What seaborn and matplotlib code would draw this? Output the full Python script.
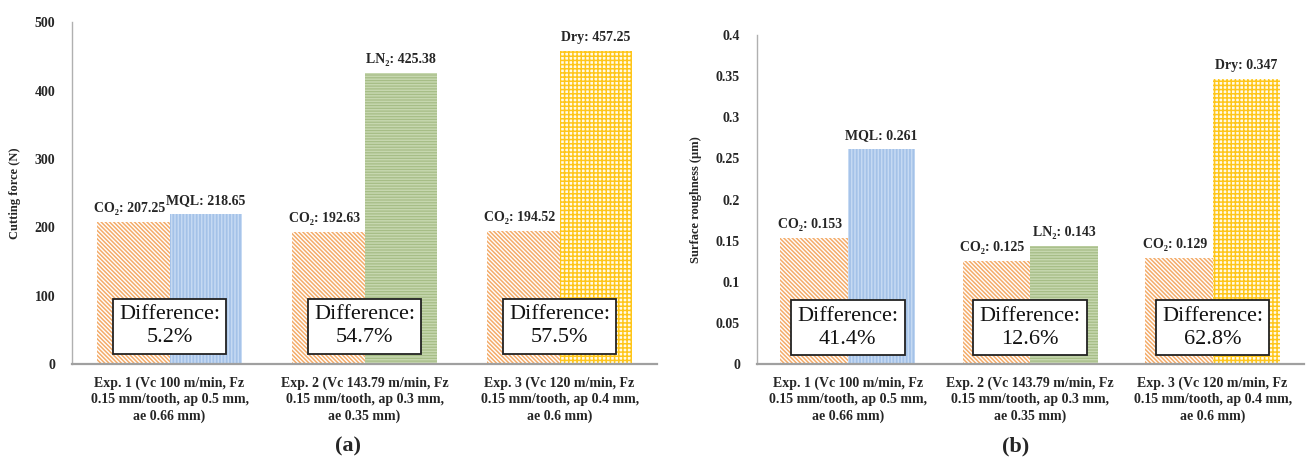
import numpy as np
import pandas as pd
import matplotlib
matplotlib.use("Agg")
import matplotlib.pyplot as plt
import matplotlib.transforms as mtransforms
import seaborn as sns

# data
experiments = [
    "Exp. 1 (Vc 100 m/min, Fz\n0.15 mm/tooth, ap 0.5 mm,\nae 0.66 mm)",
    "Exp. 2 (Vc 143.79 m/min, Fz\n0.15 mm/tooth, ap 0.3 mm,\nae 0.35 mm)",
    "Exp. 3 (Vc 120 m/min, Fz\n0.15 mm/tooth, ap 0.4 mm,\nae 0.6 mm)",
]
alt_names = ["MQL", "LN\u2082", "Dry"]
force_co2 = [207.25, 192.63, 194.52]
force_alt = [218.65, 425.38, 457.25]
force_diff = ["5.2%", "54.7%", "57.5%"]
rough_co2 = [0.153, 0.125, 0.129]
rough_alt = [0.261, 0.143, 0.347]
rough_diff = ["41.4%", "12.6%", "62.8%"]
force_ticks = [0, 100, 200, 300, 400, 500]
rough_ticks = [0, 0.05, 0.1, 0.15, 0.2, 0.25, 0.3, 0.35, 0.4]
rough_ticklabels = ["0", "0.05", "0.1", "0.15", "0.2", "0.25", "0.3", "0.35", "0.4"]

sns.set_theme(style="white")
serif = ["Liberation Serif", "DejaVu Serif"]
plt.rcParams["font.family"] = serif
plt.rcParams["hatch.linewidth"] = 1.1

# (face, hatch colour, hatch) for CO2 and for each alternative
co2_style = ("white", "#F4AC6A", "\\" * 8)
alt_styles = [
    ("#A4C2E8", "#C6DAF3", "|" * 5),
    ("#A6BD86", "#C6D7AF", "-" * 6),
    ("#FFFBEA", "#FFC61A", "+" * 4),
]


def draw_panel(ax, co2, alt, diffs, ticks, ticklabels, ylim, ylabel, fmt):
    df = pd.DataFrame({
        "exp": experiments * 2,
        "group": ["CO2"] * 3 + ["alt"] * 3,
        "value": list(co2) + list(alt),
    })
    sns.barplot(data=df, x="exp", y="value", hue="group", width=0.74,
                ax=ax, legend=False, errorbar=None, saturation=1)
    co2_bars, alt_bars = ax.containers[0], ax.containers[1]
    for i, bar in enumerate(co2_bars):
        face, hc, hatch = co2_style
        bar.set_facecolor(face)
        bar.set_edgecolor(hc)
        bar.set_hatch(hatch)
        bar.set_linewidth(0)
        ax.annotate("CO\u2082: " + fmt.format(co2[i]),
                    (bar.get_x() + bar.get_width() / 2, bar.get_height()),
                    xytext=(-3, 5), textcoords="offset points",
                    ha="center", va="bottom", fontsize=10, fontweight="bold",
                    family=serif, color="#262626")
    for i, bar in enumerate(alt_bars):
        face, hc, hatch = alt_styles[i]
        bar.set_facecolor(face)
        bar.set_edgecolor(hc)
        bar.set_hatch(hatch)
        bar.set_linewidth(0)
        ax.annotate(alt_names[i] + ": " + fmt.format(alt[i]),
                    (bar.get_x() + bar.get_width() / 2, bar.get_height()),
                    xytext=(0, 5), textcoords="offset points",
                    ha="center", va="bottom", fontsize=10, fontweight="bold",
                    family=serif, color="#262626")

    trans = mtransforms.blended_transform_factory(ax.transData, ax.transAxes)
    for i, d in enumerate(diffs):
        ax.text(i, 0.11, "Difference:\n" + d, transform=trans,
                ha="center", va="center", fontsize=16, family=serif,
                linespacing=1.3, color="#111111",
                bbox=dict(boxstyle="square,pad=0.28", fc="white",
                          ec="#222222", lw=1.3))

    ax.set_xlim(-0.5, 2.5)
    ax.set_ylim(*ylim)
    ax.set_yticks(ticks)
    ax.set_yticklabels(ticklabels)
    ax.set_xlabel("")
    ax.set_ylabel(ylabel, fontsize=9, fontweight="bold", labelpad=10)
    ax.tick_params(axis="both", length=0, labelsize=10, colors="#262626")
    ax.tick_params(axis="x", pad=9)
    ax.tick_params(axis="y", pad=12)
    for lab in ax.get_xticklabels() + ax.get_yticklabels():
        lab.set_fontweight("bold")
        lab.set_linespacing(1.35)
    for side in ["top", "right"]:
        ax.spines[side].set_visible(False)
    ax.spines["left"].set_color("#B0B0B0")
    ax.spines["left"].set_linewidth(1.0)
    ax.spines["bottom"].set_color("#A0A0A0")
    ax.spines["bottom"].set_linewidth(1.6)


fig = plt.figure(figsize=(13.09, 4.63), dpi=100)
ax1 = fig.add_axes([0.055, 0.214, 0.447, 0.738])
ax2 = fig.add_axes([0.578, 0.214, 0.418, 0.710])

draw_panel(ax1, force_co2, force_alt, force_diff, force_ticks,
           [str(t) for t in force_ticks], (0, 500), "Cutting force (N)", "{:.2f}")
draw_panel(ax2, rough_co2, rough_alt, rough_diff, rough_ticks,
           rough_ticklabels, (0, 0.4), "Surface roughness (\u00b5m)", "{:.3f}")

fig.text(0.266, 0.035, "(a)", ha="center", va="center", fontsize=16,
         fontweight="bold", family=serif)
fig.text(0.776, 0.035, "(b)", ha="center", va="center", fontsize=16,
         fontweight="bold", family=serif)

fig.savefig("out.png", dpi=100, facecolor="white")
